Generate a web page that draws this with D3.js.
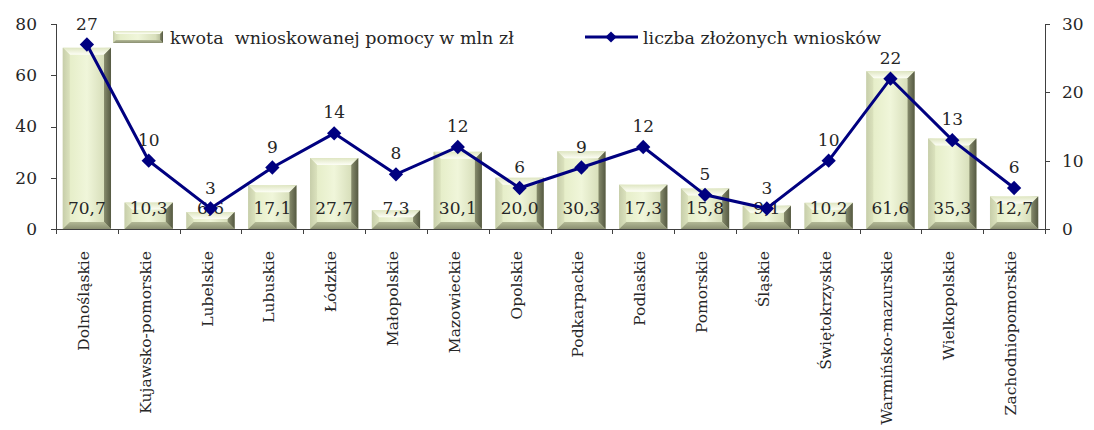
<!DOCTYPE html>
<html lang="pl">
<head>
<meta charset="UTF-8">
<title>Wnioski</title>
<script src="https://d3js.org/d3.v7.min.js"></script>
<style>
  body { margin: 0; background: #fff; }
  svg text { font-family: "DejaVu Serif", serif; fill: #262626; }
  .axis path, .axis line { stroke: #404040; shape-rendering: crispEdges; }
</style>
</head>
<body>
<svg id="chart" width="1094" height="430"></svg>
<script>
// data
var regions = ["Dolnośląskie","Kujawsko-pomorskie","Lubelskie","Lubuskie","Łódzkie","Małopolskie","Mazowieckie","Opolskie","Podkarpackie","Podlaskie","Pomorskie","Śląskie","Świętokrzyskie","Warmińsko-mazurskie","Wielkopolskie","Zachodniopomorskie"];
var kwota = [70.7, 10.3, 6.6, 17.1, 27.7, 7.3, 30.1, 20.0, 30.3, 17.3, 15.8, 9.1, 10.2, 61.6, 35.3, 12.7];
var liczba = [27, 10, 3, 9, 14, 8, 12, 6, 9, 12, 5, 3, 10, 22, 13, 6];
var leftTicks = [0, 20, 40, 60, 80];
var rightTicks = [0, 10, 20, 30];
var seriesNames = ["kwota  wnioskowanej pomocy w mln zł", "liczba złożonych wniosków"];

const svg = d3.select("#chart");
const margin = { left: 56, right: 49, top: 24, bottom: 201 };
const width = 1094, height = 430;
const fmt = d => d.toFixed(1).replace(".", ",");

const x = d3.scaleBand()
  .domain(regions)
  .range([margin.left, width - margin.right])
  .paddingInner(0.22).paddingOuter(0.11);
const yL = d3.scaleLinear().domain([0, 80]).range([height - margin.bottom, margin.top]);
const yR = d3.scaleLinear().domain([0, 30]).range([height - margin.bottom, margin.top]);

// gradients for the bevelled bars
const defs = svg.append("defs");
function grad(id, stops, vertical) {
  const g = defs.append("linearGradient").attr("id", id)
    .attr("x1", 0).attr("y1", 0).attr("x2", vertical ? 0 : 1).attr("y2", vertical ? 1 : 0);
  stops.forEach(s => g.append("stop").attr("offset", s[0]).attr("stop-color", s[1]));
}
grad("body", [[0, "#ccd4ae"], [0.15, "#e6eec9"], [0.5, "#f0f6da"], [0.85, "#d8dfbb"], [1, "#a6ac8a"]]);
grad("topb", [[0, "#dfe6c2"], [1, "#fdfef6"]], true);
grad("botb", [[0, "#b3b996"], [1, "#8b9072"]], true);
grad("rightb", [[0, "#868b6c"], [1, "#555942"]]);
grad("leftb", [[0, "#c7ceaa"], [1, "#dbe2bd"]]);

function bevelBar(g, x0, x1, y0, y1, b) {
  b = Math.min(b, (y1 - y0) / 2, (x1 - x0) / 2);
  g.append("rect").attr("x", x0).attr("y", y0).attr("width", x1 - x0).attr("height", y1 - y0).attr("fill", "url(#body)");
  const pts = a => a.map(p => p.join(",")).join(" ");
  g.append("polygon").attr("points", pts([[x0, y0], [x1, y0], [x1 - b, y0 + b], [x0 + b, y0 + b]])).attr("fill", "url(#topb)");
  g.append("polygon").attr("points", pts([[x0, y0], [x0 + b, y0 + b], [x0 + b, y1 - b], [x0, y1]])).attr("fill", "url(#leftb)");
  g.append("polygon").attr("points", pts([[x1, y0], [x1, y1], [x1 - b, y1 - b], [x1 - b, y0 + b]])).attr("fill", "url(#rightb)");
  g.append("polygon").attr("points", pts([[x0, y1], [x1, y1], [x1 - b, y1 - b], [x0 + b, y1 - b]])).attr("fill", "url(#botb)");
}

// bars
const bars = svg.append("g");
regions.forEach((r, i) => {
  bevelBar(bars.append("g"), x(r), x(r) + x.bandwidth(), yL(kwota[i]), yL(0), 7);
});

// axes
const base = height - margin.bottom;
svg.append("g").attr("class", "axis")
  .attr("transform", `translate(${margin.left},0)`)
  .call(d3.axisLeft(yL).tickValues(leftTicks).tickSize(5).tickSizeOuter(0).tickPadding(14))
  .call(g => g.select(".domain").attr("d", `M-5,${yL(80)}H0V${yL(0)}`))
  .selectAll("text").style("font-size", "17px");
svg.append("g").attr("class", "axis")
  .attr("transform", `translate(${width - margin.right},0)`)
  .call(d3.axisRight(yR).tickValues(rightTicks).tickSize(5).tickSizeOuter(0).tickPadding(12))
  .call(g => g.select(".domain").attr("d", `M5,${yR(30)}H0V${yR(0)}`))
  .selectAll("text").style("font-size", "17px");

// category axis: separators between bands
const xa = svg.append("g").attr("class", "axis");
xa.append("line").attr("x1", margin.left).attr("x2", width - margin.right).attr("y1", base).attr("y2", base).attr("stroke", "#404040");
d3.range(regions.length + 1).forEach(i => {
  const xx = Math.round(margin.left + (width - margin.left - margin.right) * i / regions.length) + 0.5;
  xa.append("line").attr("x1", xx).attr("x2", xx).attr("y1", base).attr("y2", base + 5).attr("stroke", "#404040");
});
svg.append("g").selectAll("text").data(regions).enter().append("text")
  .attr("transform", d => `translate(${x(d) + x.bandwidth() / 2 + 2},${base + 22}) rotate(-90)`)
  .attr("text-anchor", "end")
  .style("font-size", "15.5px")
  .text(d => d);

// bar value labels
svg.append("g").selectAll("text").data(kwota).enter().append("text")
  .attr("x", (d, i) => x(regions[i]) + x.bandwidth() / 2)
  .attr("y", base - 15)
  .attr("text-anchor", "middle")
  .style("font-size", "17px")
  .text(d => fmt(d));

// line series
const cx = (d, i) => x(regions[i]) + x.bandwidth() / 2;
svg.append("path").datum(liczba)
  .attr("fill", "none").attr("stroke", "#000080").attr("stroke-width", 3)
  .attr("d", d3.line().x(cx).y(d => yR(d)));
const diamond = d3.symbol().type(d3.symbolDiamond2).size(130);
svg.append("g").selectAll("path").data(liczba).enter().append("path")
  .attr("transform", (d, i) => `translate(${cx(d, i)},${yR(d)})`)
  .attr("d", diamond).attr("fill", "#000080");
svg.append("g").selectAll("text").data(liczba).enter().append("text")
  .attr("x", cx).attr("y", d => yR(d) - 15)
  .attr("text-anchor", "middle")
  .style("font-size", "17px")
  .text(d => d);

// legend
const lg = svg.append("g");
bevelBar(lg.append("g"), 113, 163, 31, 43, 3);
lg.append("text").attr("x", 170).attr("y", 44).style("font-size", "17.5px").style("white-space", "pre").text(seriesNames[0]);
lg.append("line").attr("x1", 585).attr("x2", 638).attr("y1", 37).attr("y2", 37).attr("stroke", "#000080").attr("stroke-width", 3);
lg.append("path").attr("transform", "translate(611,37)").attr("d", d3.symbol().type(d3.symbolDiamond2).size(80)).attr("fill", "#000080");
lg.append("text").attr("x", 643).attr("y", 44).style("font-size", "17.5px").text(seriesNames[1]);
</script>
</body>
</html>
